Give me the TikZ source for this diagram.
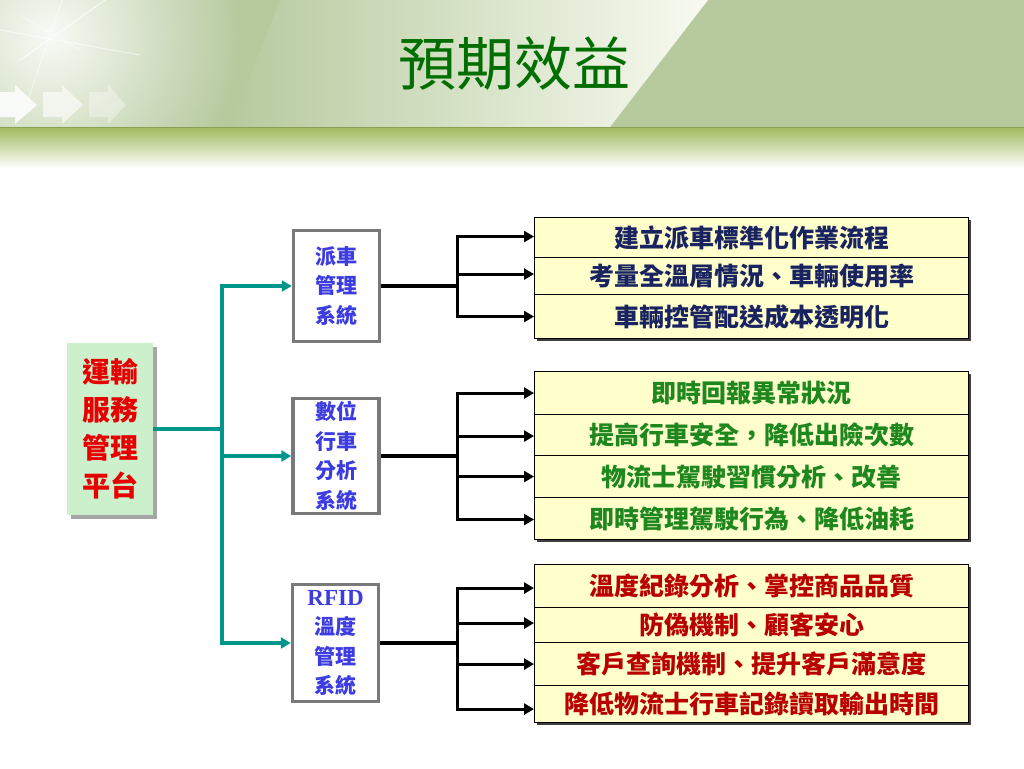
\documentclass[tikz,border=0pt]{standalone}
\usepackage{fontspec}
\setmainfont{Noto Sans CJK TC}
\newfontfamily\tnr{Liberation Serif}
\usetikzlibrary{arrows.meta,shadings}
\definecolor{titlegreen}{RGB}{0,110,0}
\definecolor{hdrbase}{RGB}{182,202,158}
\definecolor{hdrglow}{RGB}{248,250,240}
\definecolor{bandtop}{RGB}{162,188,98}
\definecolor{tealc}{RGB}{0,150,140}
\definecolor{mintc}{RGB}{204,240,204}
\definecolor{redc}{RGB}{230,0,0}
\definecolor{bluec}{RGB}{60,60,225}
\definecolor{yellowc}{RGB}{255,255,204}
\definecolor{navyc}{RGB}{25,35,95}
\definecolor{greenc}{RGB}{30,135,30}
\definecolor{darkredc}{RGB}{185,0,0}
\tikzset{
  platform/.style={draw=none,fill=mintc,minimum width=86pt,minimum height=172pt,inner sep=0pt,align=center,text=redc,font=\fontsize{28}{38}\selectfont\bfseries},
  sysbox/.style={draw=gray!95!black,line width=3.5pt,fill=white,minimum width=86pt,inner sep=0pt,align=center,text=bluec,font=\fontsize{21}{29.5}\selectfont\bfseries},
  rowbox/.style={draw=black,line width=1.1pt,fill=yellowc,minimum width=434pt,inner sep=0pt,anchor=north west,font=\fontsize{25}{30}\selectfont\bfseries},
  tealarrow/.style={draw=tealc,line width=3.5pt,-{Triangle[length=10pt,width=11pt]}},
  tealline/.style={draw=tealc,line width=3.5pt},
  trunk/.style={draw=black,line width=4.5pt},
  branch/.style={draw=black,line width=3pt,-{Triangle[length=10pt,width=11pt]}},
}
\begin{document}
\begin{tikzpicture}[x=1pt,y=-1pt]
\useasboundingbox (0,0) rectangle (1024,768);
\fill[white] (0,0) rectangle (1024,768);
% header
\fill[hdrbase] (0,0) rectangle (1024,127);
\shade[left color=hdrbase,right color=hdrglow] (280,0) -- (708,0) -- (610,127) -- (230,127) -- cycle;
\begin{scope}
\clip (0,0) rectangle (260,127);
\shade[inner color=white!90!hdrbase,outer color=hdrbase] (50,35) circle (190);
\end{scope}
\shade[top color=bandtop,bottom color=white] (0,128) rectangle (1024,168);
\draw[line width=1.2pt,color=bandtop!85!black] (0,127.5) -- (1024,127.5);
\draw[white,opacity=0.8,line width=0.9pt] (20,60) -- (105,0);
\draw[white,opacity=0.6,line width=0.9pt] (62,0) -- (28,100);
\draw[white,opacity=0.6,line width=0.9pt] (0,30) -- (140,55);
\draw[white,opacity=0.5,line width=0.8pt] (20,15) -- (80,50);
\fill[white,opacity=0.85] (0,92) -- (15,92) -- (15,85) -- (37,105) -- (15,124) -- (15,117) -- (0,117) -- cycle;
\fill[white,opacity=0.6] (43,92) -- (62,92) -- (62,85) -- (83,105) -- (62,124) -- (62,117) -- (43,117) -- cycle;
\fill[white,opacity=0.35] (89,92) -- (108,92) -- (108,85) -- (126,105) -- (108,124) -- (108,117) -- (89,117) -- cycle;
\node[text=titlegreen,font=\fontsize{58}{60}\selectfont,inner sep=0pt] (title) at (514,64) {預期效益};
% left box
\fill[gray!70] (71,347) rectangle (157,519);
\node[platform] (L) at (110,429) {運輸\\服務\\管理\\平台};
% middle boxes
\node[sysbox,minimum height=111pt] (B1) at (336.5,286) {派車\\管理\\系統};
\node[sysbox,minimum height=115pt] (B2) at (336,456) {數位\\行車\\分析\\系統};
\node[sysbox,minimum height=117pt] (B3) at (335.5,643) {{\tnr\fontsize{23}{29.5}\selectfont RFID}\\溫度\\管理\\系統};
% right group 1
\fill[black!75] (537,220) rectangle (971,341);
\node[rowbox,minimum height=40pt,text=navyc] (r11) at (534,217) {建立派車標準化作業流程};
\node[rowbox,minimum height=37pt,text=navyc] (r12) at (534,257) {考量全溫層情況、車輛使用率};
\node[rowbox,minimum height=44pt,text=navyc] (r13) at (534,294) {車輛控管配送成本透明化};
% right group 2
\fill[black!75] (537,374) rectangle (971,542);
\node[rowbox,minimum height=43pt,text=greenc] (r21) at (534,371) {即時回報異常狀況};
\node[rowbox,minimum height=41pt,text=greenc] (r22) at (534,414) {提高行車安全，降低出險次數};
\node[rowbox,minimum height=42pt,text=greenc] (r23) at (534,455) {物流士駕駛習慣分析、改善};
\node[rowbox,minimum height=42pt,text=greenc] (r24) at (534,497) {即時管理駕駛行為、降低油耗};
% right group 3
\fill[black!75] (537,567) rectangle (971,725);
\node[rowbox,minimum height=43pt,text=darkredc] (r31) at (534,564) {溫度紀錄分析、掌控商品品質};
\node[rowbox,minimum height=35pt,text=darkredc] (r32) at (534,607) {防偽機制、顧客安心};
\node[rowbox,minimum height=43pt,text=darkredc] (r33) at (534,642) {客戶查詢機制、提升客戶滿意度};
\node[rowbox,minimum height=37pt,text=darkredc] (r34) at (534,685) {降低物流士行車記錄讀取輸出時間};
% teal connectors
\coordinate (tj) at (222,429);
\draw[tealline] (L.east) -- (tj);
\draw[tealarrow] (tj) |- (B1.west);
\draw[tealarrow] (tj) |- (B2.west);
\draw[tealarrow] (tj) |- (B3.west);
% black connectors group 1
\coordinate (j1) at (457,286);
\draw[trunk] (B1.east) -- (j1);
\draw[branch] (j1) |- ([yshift=1pt]r11.west);
\draw[branch] (j1) |- ([yshift=2pt]r12.west);
\draw[branch] (j1) |- (r13.west);
% group 2
\coordinate (j2) at (457,456);
\draw[trunk] (B2.east) -- (j2);
\draw[branch] (j2) |- (r21.west);
\draw[branch] (j2) |- ([yshift=-1pt]r22.west);
\draw[branch] (j2) |- (r23.west);
\draw[branch] (j2) |- ([yshift=-1pt]r24.west);
% group 3
\coordinate (j3) at (457,643);
\draw[trunk] (B3.east) -- (j3);
\draw[branch] (j3) |- ([yshift=-2pt]r31.west);
\draw[branch] (j3) |- ([yshift=2pt]r32.west);
\draw[branch] (j3) |- (r33.west);
\draw[branch] (j3) |- ([yshift=-5pt]r34.west);
\end{tikzpicture}
\end{document}
